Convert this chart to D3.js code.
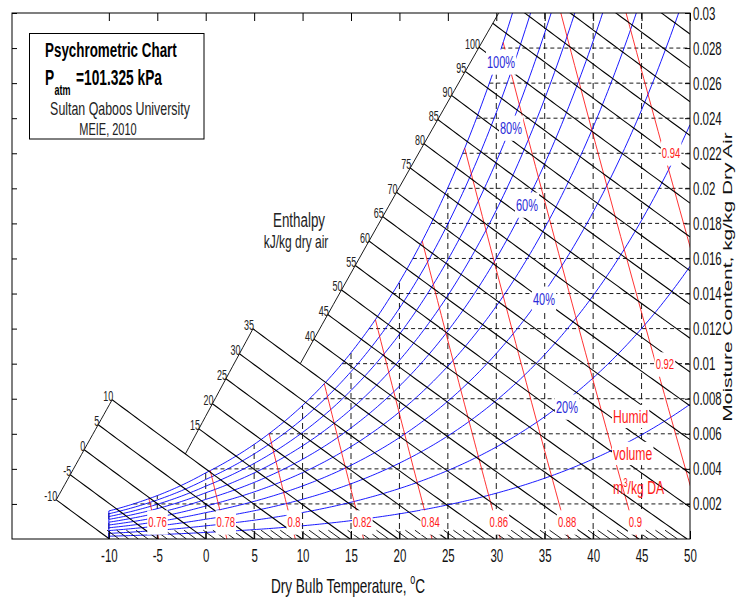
<!DOCTYPE html>
<html>
<head>
<meta charset="utf-8">
<script src="https://cdn.jsdelivr.net/npm/d3@7"></script>
<style>
  body { margin: 0; background: #fff; }
  svg { display: block; font-family: "Liberation Sans", Arial, Helvetica, sans-serif; }
</style>
</head>
<body>
<svg id="chart" width="737" height="599"></svg>
<script>
// ---- chart values ----
const P_ATM = 101.325; // kPa
const tempTicks = [-10, -5, 0, 5, 10, 15, 20, 25, 30, 35, 40, 45, 50];
const moistureTicks = [0.002, 0.004, 0.006, 0.008, 0.01, 0.012, 0.014, 0.016, 0.018, 0.02,
  0.022, 0.024, 0.026, 0.028, 0.03];
const rhLevels = [0.1, 0.2, 0.3, 0.4, 0.5, 0.6, 0.7, 0.8, 0.9, 1.0];
const rhLabels = ['100%', '80%', '60%', '40%', '20%'];
const enthalpyLevels = [-10, -5, 0, 5, 10, 15, 20, 25, 30, 35, 40, 45, 50, 55, 60, 65, 70, 75,
  80, 85, 90, 95, 100, 105, 110, 115, 120, 125];
const enthalpyLabels = [-10, -5, 0, 5, 10, 15, 20, 25, 30, 35, 40, 45, 50, 55, 60, 65, 70, 75,
  80, 85, 90, 95, 100];
const volumeLevels = [0.76, 0.78, 0.8, 0.82, 0.84, 0.86, 0.88, 0.9, 0.92, 0.94];

// ---- placement of scale lines and annotations (data coords) ----
// enthalpy scale: start temperature of the first and last line on each segment
const enthalpySegments = [
  { h0: -10, h1: 10, t0: -15.43, t1: -9.66 },
  { h0: 10, h1: 35, t0: -2.10, t1: 4.88 },
  { h0: 35, h1: 115, t0: 9.76, t1: 32.48 },
];
const rhLabelAt = [[30.49, 0.02721], [31.52, 0.02344], [33.17, 0.01905], [34.92, 0.01369], [37.30, 0.00753]];
const volumeLabelW = [0.00097, 0.00097, 0.00097, 0.00097, 0.00097, 0.00097, 0.00097, 0.00097, 0.00998, 0.02202];
const volumeLabelDx = [3, 3, 3, 3, 3, 3, 3, 3, 9, 7];

// ---- layout ----
const SY = 1.55; // the source figure is stretched vertically
const width = 737;
const height = 599;
const plot = { left: 12, right: 690, top: 13, bottom: 539 };

const x = d3.scaleLinear().domain([-20, 50]).range([plot.left, plot.right]);
const y = d3.scaleLinear().domain([0, 0.03]).range([plot.bottom, plot.top]);

// ---- psychrometrics ----
const psat = (t) => t >= 0
  ? 0.61094 * Math.exp(17.625 * t / (t + 243.04))
  : 0.61115 * Math.exp(22.452 * t / (272.55 + t));
const wAtRH = (t, rh) => 0.622 * rh * psat(t) / (P_ATM - rh * psat(t));
const wOnEnthalpy = (h, t) => (h - 1.006 * t) / (2501 + 1.86 * t);
const tOnVolume = (v, w) => v * P_ATM / (0.287042 * (1 + 1.6078 * w)) - 273.15;

const bisect = (f, lo, hi) => {
  let flo = f(lo);
  for (let i = 0; i < 60; i++) {
    const mid = (lo + hi) / 2;
    const fm = f(mid);
    if ((fm > 0) === (flo > 0)) { lo = mid; flo = fm; } else { hi = mid; }
  }
  return (lo + hi) / 2;
};
const tSat = (w) => bisect((t) => wAtRH(t, 1) - w, -40, 80);

const enthalpyStartT = (h) => {
  const seg = enthalpySegments.find((s) => h <= s.h1) || enthalpySegments[2];
  return seg.t0 + (seg.t1 - seg.t0) * (h - seg.h0) / (seg.h1 - seg.h0);
};

const svg = d3.select('#chart');
svg.append('rect').attr('width', width).attr('height', height).attr('fill', '#fff');

svg.append('clipPath').attr('id', 'plotClip')
  .append('rect')
  .attr('x', plot.left).attr('y', plot.top)
  .attr('width', plot.right - plot.left).attr('height', plot.bottom - plot.top);

const body = svg.append('g').attr('clip-path', 'url(#plotClip)');
const line = d3.line().x((d) => x(d[0])).y((d) => y(d[1]));

// dashed grid under the saturation curve
body.append('g')
  .selectAll('line')
  .data(tempTicks.filter((t) => t < 50))
  .enter()
  .append('line')
  .attr('x1', (d) => x(d)).attr('x2', (d) => x(d))
  .attr('y1', y(0)).attr('y2', (d) => y(Math.min(wAtRH(d, 1), 0.03)))
  .attr('stroke', '#000').attr('stroke-width', 0.9).attr('stroke-dasharray', '6,4');

body.append('g')
  .selectAll('line')
  .data(moistureTicks.filter((w) => w < 0.03))
  .enter()
  .append('line')
  .attr('x1', (d) => x(tSat(d))).attr('x2', x(50))
  .attr('y1', (d) => y(d)).attr('y2', (d) => y(d))
  .attr('stroke', '#000').attr('stroke-width', 0.9).attr('stroke-dasharray', '4,3');

// relative humidity curves
const tSamples = d3.range(-10, 50.001, 0.25);
body.append('g')
  .selectAll('path')
  .data(rhLevels)
  .enter()
  .append('path')
  .attr('d', (rh) => line(tSamples.map((t) => [t, wAtRH(t, rh)])))
  .attr('fill', 'none').attr('stroke', '#0000ff').attr('stroke-width', 0.9);

body.append('line')
  .attr('x1', x(-10)).attr('x2', x(-10))
  .attr('y1', y(0)).attr('y2', y(wAtRH(-10, 1)))
  .attr('stroke', '#0000ff').attr('stroke-width', 0.9);

// humid volume lines, from the saturation curve (or the top) down
const volumeTop = (v) => {
  const f = (w) => tOnVolume(v, w) - tSat(w);
  return f(0.03) > 0 ? 0.03 : bisect(f, 0.0003, 0.03);
};
body.append('g')
  .selectAll('path')
  .data(volumeLevels)
  .enter()
  .append('path')
  .attr('d', (v) => {
    const top = volumeTop(v);
    return line(d3.range(0, 41).map((i) => [tOnVolume(v, top * i / 40), top * i / 40]));
  })
  .attr('fill', 'none').attr('stroke', '#ff0000').attr('stroke-width', 0.8);

// enthalpy lines
const enthalpyPath = (h, tFrom, tTo) => {
  const pts = d3.range(tFrom, tTo, 0.5).map((t) => [t, wOnEnthalpy(h, t)]);
  pts.push([tTo, wOnEnthalpy(h, tTo)]);
  return line(pts);
};
body.append('g')
  .selectAll('path')
  .data(enthalpyLevels)
  .enter()
  .append('path')
  .attr('d', (h) => enthalpyPath(h, enthalpyStartT(h), Math.min(50, h / 1.006)))
  .attr('fill', 'none').attr('stroke', '#000').attr('stroke-width', 1.1);

// short enthalpy marks along the bottom, 1 kJ/kg apart
body.append('g')
  .selectAll('line')
  .data(d3.range(-9, 50).filter((h) => h % 5 !== 0))
  .enter()
  .append('line')
  .attr('x1', (h) => x(h / 1.006)).attr('y1', y(0))
  .attr('x2', (h) => x((h - 0.0005 * 2501) / (1.006 + 0.0005 * 1.86))).attr('y2', y(0.0005))
  .attr('stroke', '#000').attr('stroke-width', 0.9);

// enthalpy scale lines
body.append('g')
  .selectAll('path')
  .data(enthalpySegments)
  .enter()
  .append('path')
  .attr('d', (s) => line(d3.range(0, 21).map((i) => {
    const h = s.h0 + (s.h1 - s.h0) * i / 20;
    const t = s.t0 + (s.t1 - s.t0) * i / 20;
    return [t, wOnEnthalpy(h, t)];
  })))
  .attr('fill', 'none').attr('stroke', '#000').attr('stroke-width', 0.9);

// ---- axes ----
const axes = svg.append('g');
const xAxisBottom = axes.append('g')
  .attr('transform', `translate(0,${plot.bottom})`)
  .call(d3.axisBottom(x).tickValues(tempTicks).tickSizeInner(-8).tickSizeOuter(0).tickPadding(0)
    .tickFormat((d) => String(d)));
axes.append('g')
  .attr('transform', `translate(0,${plot.top})`)
  .call(d3.axisTop(x).tickValues(tempTicks).tickSizeInner(-8).tickSizeOuter(0).tickFormat(''));
axes.append('g')
  .attr('transform', `translate(${plot.left},0)`)
  .call(d3.axisLeft(y).tickValues(moistureTicks).tickSizeInner(-5).tickSizeOuter(0).tickFormat(''));
const yAxisRight = axes.append('g')
  .attr('transform', `translate(${plot.right},0)`)
  .call(d3.axisRight(y).tickValues(moistureTicks).tickSizeInner(-5).tickSizeOuter(0).tickPadding(3)
    .tickFormat((d) => String(+d.toFixed(3))));
axes.selectAll('.domain').remove();
axes.selectAll('.tick line').attr('stroke', '#000').attr('stroke-width', 1);
axes.selectAll('text')
  .attr('font-family', null).attr('font-size', 11.5).attr('fill', '#111')
  .attr('dy', 0).attr('transform', `scale(1,${SY})`);
xAxisBottom.selectAll('text').attr('y', 23 / SY);
yAxisRight.selectAll('text').attr('y', 6 / SY);

svg.append('rect')
  .attr('x', plot.left).attr('y', plot.top)
  .attr('width', plot.right - plot.left).attr('height', plot.bottom - plot.top)
  .attr('fill', 'none').attr('stroke', '#000').attr('stroke-width', 1);

// title box (drawn before its texts)
svg.append('rect')
  .attr('x', 29.5).attr('y', 33.5).attr('width', 174.5).attr('height', 105.5)
  .attr('fill', '#fff').attr('stroke', '#000').attr('stroke-width', 1);

// ---- text helpers ----
const note = svg.append('g');
function stretchedText(px, py, str, opt = {}) {
  const { size = 11, anchor = 'start', fill = '#000', weight = 'normal', bg = null, pad = [2, 2] } = opt;
  const g = note.append('g').attr('transform', `translate(${px},${py}) scale(1,${SY})`);
  const t = g.append('text')
    .attr('text-anchor', anchor).attr('font-size', size)
    .attr('font-weight', weight).attr('fill', fill)
    .text(str);
  if (bg) {
    const b = t.node().getBBox();
    g.insert('rect', 'text')
      .attr('x', b.x - pad[0]).attr('y', b.y - pad[1])
      .attr('width', b.width + 2 * pad[0]).attr('height', b.height + 2 * pad[1])
      .attr('fill', bg);
  }
  return t;
}
const midBaseline = (cy, size) => cy + 0.358 * size * SY;

// humid volume labels
volumeLevels.forEach((v, i) => {
  const w = volumeLabelW[i];
  stretchedText(x(tOnVolume(v, w)) + volumeLabelDx[i], midBaseline(y(w), 9.5), String(v),
    { size: 9.5, anchor: 'middle', fill: '#ff1a1a', bg: '#fff', pad: [1, 2.5] });
});

// relative humidity labels
rhLabels.forEach((lab, i) => {
  const [t, w] = rhLabelAt[i];
  stretchedText(x(t), midBaseline(y(w), 11), lab,
    { size: 11, anchor: 'middle', fill: '#2a2ad8', bg: '#fff', pad: [1, 2] });
});

// enthalpy scale labels
enthalpyLabels.forEach((h) => {
  const t = enthalpyStartT(h);
  stretchedText(x(t) + 1, y(wOnEnthalpy(h, t)) + 1.5, String(h), { size: 9, anchor: 'end', fill: '#222' });
});

stretchedText(299, 226.5, 'Enthalpy', { size: 13.4, anchor: 'middle', fill: '#222' });
stretchedText(296, 248, 'kJ/kg dry air', { size: 12, anchor: 'middle', fill: '#222' });

stretchedText(613, 423, 'Humid', { size: 12.2, fill: '#ff1a1a', bg: '#fff', pad: [1, 1] });
stretchedText(613, 460, 'volume', { size: 12.2, fill: '#ff1a1a', bg: '#fff', pad: [1, 1] });
const unit = stretchedText(613, 494, 'm', { size: 12.2, fill: '#ff1a1a', bg: null });
unit.append('tspan').attr('font-size', 8).attr('dy', -4.5).text('3');
unit.append('tspan').attr('dy', 4.5).text('/kg DA');

stretchedText(45, 57, 'Psychrometric Chart', { size: 13.4, weight: 'bold' });
stretchedText(45, 85, 'P', { size: 13.75, weight: 'bold' });
stretchedText(54.5, 94.5, 'atm', { size: 9, weight: 'bold' });
stretchedText(76, 85, '=101.325 kPa', { size: 13.75, weight: 'bold' });
stretchedText(120, 115, 'Sultan Qaboos University', { size: 12.4, anchor: 'middle', fill: '#222' });
stretchedText(108, 135, 'MEIE, 2010', { size: 11, anchor: 'middle', fill: '#222' });

// axis titles
const xTitle = stretchedText(348, 593, 'Dry Bulb Temperature, ', { size: 13.6, anchor: 'middle', fill: '#111' });
xTitle.append('tspan').attr('font-size', 9).attr('dy', -6).text('o');
xTitle.append('tspan').attr('dy', 6).text('C');

note.append('g')
  .attr('transform', `translate(732,277) rotate(-90) scale(${SY},1)`)
  .append('text')
  .attr('text-anchor', 'middle').attr('font-size', 13.5).attr('fill', '#111')
  .text('Moisture Content, kg/kg Dry Air');
</script>
</body>
</html>
